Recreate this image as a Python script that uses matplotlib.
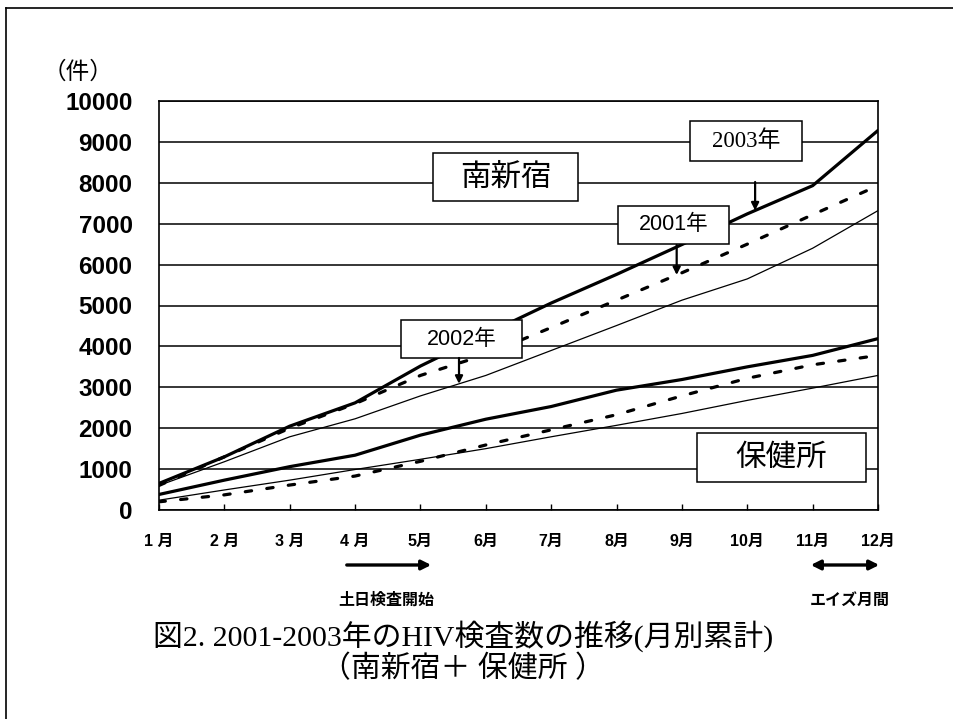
import matplotlib
matplotlib.use("Agg")
import matplotlib.pyplot as plt
import numpy as np
from matplotlib.patches import Rectangle, FancyArrowPatch
from matplotlib.lines import Line2D

# ---- data -------------------------------------------------------------
months = list(range(1, 13))
month_labels = ["1 月", "2 月", "3 月", "4 月", "5月", "6月", "7月",
                "8月", "9月", "10月", "11月", "12月"]
y_ticks = list(range(0, 10001, 1000))

# cumulative HIV tests, 南新宿
minami_2001 = [600, 1300, 2000, 2600, 3290, 3800, 4460, 5130, 5800, 6500, 7220, 7930]
minami_2002 = [600, 1180, 1790, 2230, 2790, 3290, 3900, 4510, 5130, 5650, 6400, 7320]
minami_2003 = [650, 1300, 2050, 2620, 3520, 4300, 5060, 5760, 6490, 7240, 7930, 9280]
# cumulative HIV tests, 保健所
hoken_2001 = [200, 370, 610, 830, 1190, 1590, 1960, 2330, 2790, 3220, 3550, 3780]
hoken_2002 = [240, 490, 730, 990, 1240, 1500, 1790, 2070, 2360, 2680, 2980, 3290]
hoken_2003 = [380, 730, 1060, 1340, 1830, 2220, 2530, 2930, 3190, 3500, 3780, 4190]

# ---- figure ------------------------------------------------------------
W, H = 954, 719
fig = plt.figure(figsize=(W / 100, H / 100), dpi=100)
fig.patch.set_facecolor("white")


def fx(px):
    return px / W


def fy(py):
    return 1 - py / H


AX_L, AX_R = 159, 878
ax = fig.add_axes([fx(AX_L), fy(510), (AX_R - AX_L) / W, (510 - 101) / H])

SANS = ["Liberation Sans", "Noto Sans CJK JP"]
SERIF = ["Liberation Serif", "Noto Sans CJK JP"]
CJK = ["Noto Sans CJK JP", "DejaVu Sans"]

thick = dict(color="black", lw=2.3, solid_capstyle="round", zorder=3)
thin = dict(color="black", lw=0.9, zorder=3)
dashed = dict(color="black", lw=2.3, dashes=(2.0, 4.8), dash_capstyle="round", zorder=3)

ax.plot(months, minami_2002, **thin)
ax.plot(months, minami_2001, **dashed)
ax.plot(months, minami_2003, **thick)
ax.plot(months, hoken_2002, **thin)
ax.plot(months, hoken_2001, **dashed)
ax.plot(months, hoken_2003, **thick)

ax.set_xlim(1, 12)
ax.set_ylim(0, 10000)
ax.set_yticks(y_ticks)
ax.set_xticks(months)
ax.set_xticklabels(month_labels)
ax.yaxis.grid(True, color="black", lw=1.1, zorder=1)
ax.set_axisbelow(True)
for s in ax.spines.values():
    s.set_linewidth(1.2)
    s.set_color("black")

ax.tick_params(axis="y", length=0, pad=19)
ax.tick_params(axis="x", direction="in", length=4, width=1.0, pad=17)
for lab in ax.get_yticklabels():
    lab.set_fontfamily(SANS)
    lab.set_fontweight("bold")
    lab.set_fontsize(17.5)
for lab in ax.get_xticklabels():
    lab.set_fontfamily(SANS)
    lab.set_fontweight("bold")
    lab.set_fontsize(11.5)

fig.text(fx(78), fy(72), "（件）", family=CJK, fontsize=17, ha="center", va="center")

# ---- labelled boxes ------------------------------------------------------
def box(x0, y0, x1, y1, text, family, size, weight="normal"):
    ax.add_patch(Rectangle((fx(x0), fy(y1)), (x1 - x0) / W, (y1 - y0) / H,
                           transform=fig.transFigure, fc="white", ec="black",
                           lw=1.1, zorder=5, clip_on=False))
    ax.text(fx((x0 + x1) / 2), fy((y0 + y1) / 2), text, transform=fig.transFigure,
            family=family, fontsize=size, weight=weight, ha="center", va="center",
            zorder=6)


box(433, 153, 578, 201, "南新宿", CJK, 22)
box(401, 320, 522, 358, "2002年", SANS, 15.5)
box(618, 206, 729, 244, "2001年", SANS, 15.5)
box(690, 121, 802, 161, "2003年", SERIF, 16.5)
box(697, 433, 866, 482, "保健所", CJK, 22)


def pointer(m, series, top_px):
    px = AX_L + (m - 1) * (AX_R - AX_L) / 11
    ax.annotate("", xy=(m, np.interp(m, months, series)), xycoords="data",
                xytext=(fx(px), fy(top_px)), textcoords="figure fraction",
                arrowprops=dict(arrowstyle="-|>", color="black", lw=1.6,
                                mutation_scale=11, shrinkA=0, shrinkB=0),
                zorder=6)


pointer(10.12, minami_2003, 182)
pointer(8.92, minami_2001, 245)
pointer(5.59, minami_2002, 358)

# ---- notes under the axis --------------------------------------------------
fig.add_artist(FancyArrowPatch(
    (fx(344), fy(565)), (fx(434), fy(565)), transform=fig.transFigure,
    arrowstyle="-|>", mutation_scale=14, lw=2.4, color="black"))
fig.add_artist(FancyArrowPatch(
    (fx(808), fy(565)), (fx(882), fy(565)), transform=fig.transFigure,
    arrowstyle="<|-|>", mutation_scale=14, lw=2.4, color="black"))
fig.text(fx(386), fy(600), "土日検査開始", family=CJK, fontsize=11.5, weight="bold",
         ha="center", va="center")
fig.text(fx(850), fy(600), "エイズ月間", family=CJK, fontsize=11.5, weight="bold",
         ha="center", va="center")

fig.text(fx(463), fy(636), "図2. 2001-2003年のHIV検査数の推移(月別累計)",
         family=SERIF, fontsize=21.5, ha="center", va="center")
fig.text(fx(463), fy(669), "（南新宿＋ 保健所 ）",
         family=SERIF, fontsize=21.5, ha="center", va="center")

# page frame
fig.add_artist(Line2D([fx(6), fx(6)], [fy(8), 0], color="black", lw=1.2))
fig.add_artist(Line2D([fx(6), 1], [fy(8), fy(8)], color="black", lw=1.2))

fig.savefig("out.png", dpi=100, facecolor="white")
